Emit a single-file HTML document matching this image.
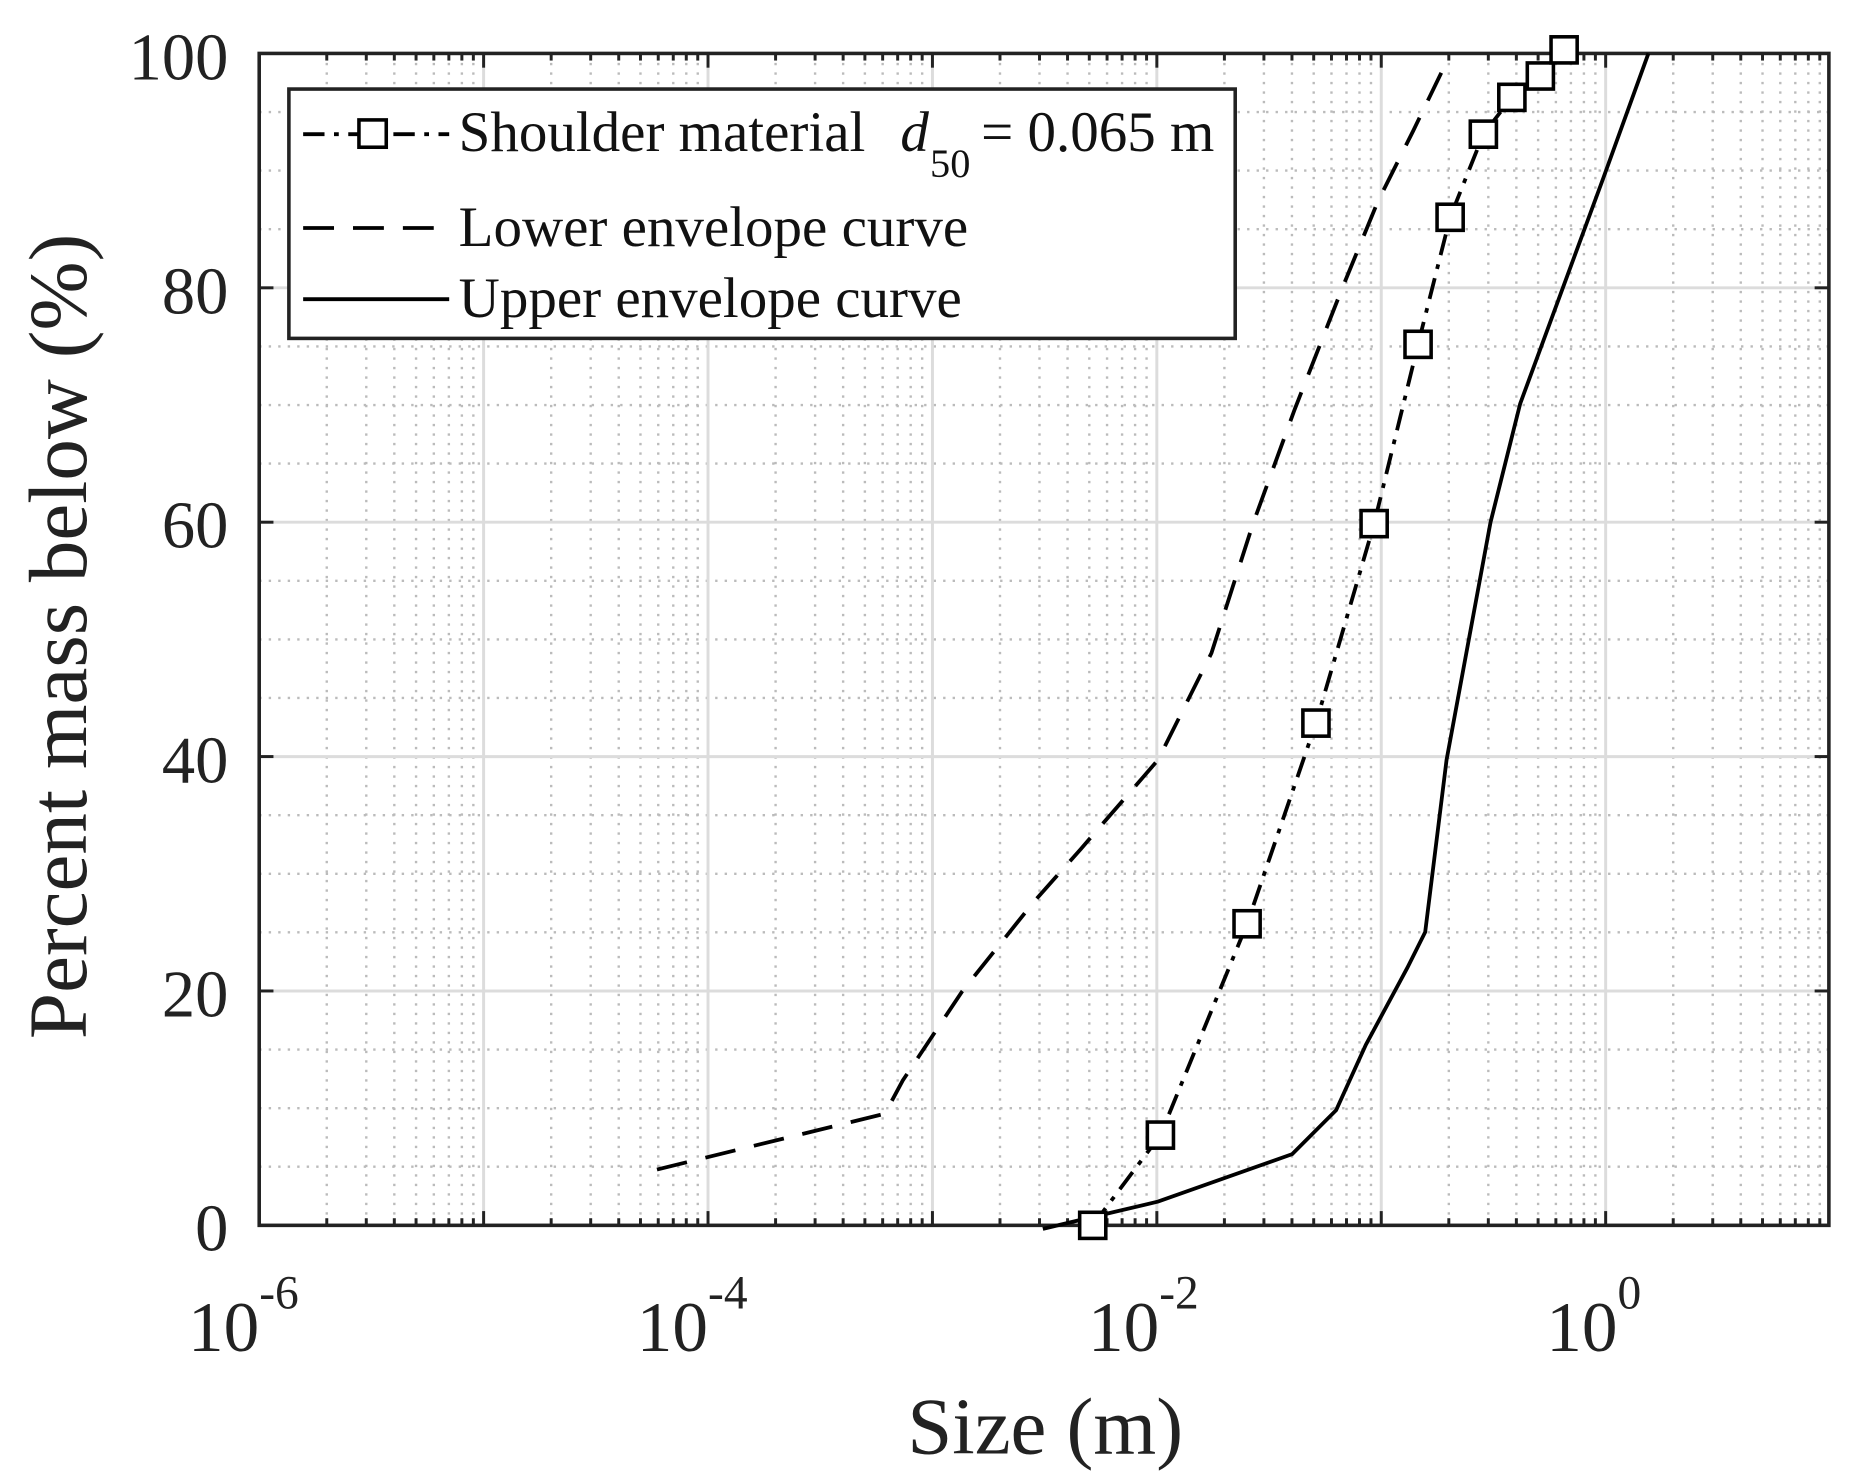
<!DOCTYPE html>
<html><head><meta charset="utf-8"><style>html,body{margin:0;padding:0;background:#fff}svg{display:block}</style></head>
<body>
<svg width="1853" height="1483" viewBox="0 0 1560 1249" xmlns="http://www.w3.org/2000/svg" font-family="Liberation Serif, serif">
<rect width="1560" height="1249" fill="#fff"/>
<g id="minor" stroke="#bbb" stroke-width="2" stroke-dasharray="2,6">
</g>
<g id="major" stroke="#dcdcdc" stroke-width="2.5"></g>
<g id="ticks" stroke="#222" stroke-width="2.5"></g>
<rect x="218" y="45" width="1322" height="987" fill="none" stroke="#222" stroke-width="3"/>
<g fill="none" stroke="#000" stroke-width="3.2">
<polyline stroke-dasharray="26,16" points="553,985 745,938 760,910 810,835 870,760 910,715 975,640 1020,550 1055,441 1090,345 1130,243 1160,170 1190,110 1220,48"/>
<polyline points="878,1035 920,1025 975,1012 1088,972 1125,935 1150,880 1185,815 1200,785 1218,640 1255,440 1280,340 1350,150 1388,45"/>
<polyline stroke-dasharray="18,8,4,8" points="920,1032 977,956 1050,778 1108,609 1157,441 1194,290 1221,183 1249,113 1273,82 1297,64 1317,42"/>
<g id="mk" stroke-width="3" fill="#fff"></g>
</g>
<rect x="243" y="75" width="797" height="210" fill="#fff" stroke="#222" stroke-width="3"/>
<g stroke="#000" stroke-width="3.2">
<line x1="255" y1="113" x2="378" y2="113" stroke-dasharray="18,8,4,8"/>
<rect x="302" y="101" width="23" height="23" fill="#fff" stroke-width="3"/>
<line x1="255" y1="192" x2="378" y2="192" stroke-dasharray="26,16"/>
<line x1="255" y1="252" x2="378" y2="252"/>
</g>
<g font-size="48" fill="#111">
<text x="386" y="127">Shoulder material</text>
<text x="758" y="127" font-style="italic">d</text>
<text x="783" y="149" font-size="34">50</text>
<text x="826" y="127">= 0.065 m</text>
<text x="386" y="207">Lower envelope curve</text>
<text x="386" y="267">Upper envelope curve</text>
</g>
<g font-size="56" fill="#222" text-anchor="end">
<text x="192" y="67">100</text>
<text x="192" y="264">80</text>
<text x="192" y="461">60</text>
<text x="192" y="659">40</text>
<text x="192" y="856">20</text>
<text x="192" y="1053">0</text>
</g>
<g font-size="60" fill="#222">
<text x="158" y="1138">10<tspan font-size="40" dy="-36">-6</tspan></text>
<text x="536" y="1138">10<tspan font-size="40" dy="-36">-4</tspan></text>
<text x="916" y="1138">10<tspan font-size="40" dy="-36">-2</tspan></text>
<text x="1302" y="1138">10<tspan font-size="40" dy="-36">0</tspan></text>
</g>
<text x="880" y="1224" font-size="68" fill="#222" text-anchor="middle">Size (m)</text>
<text transform="translate(72,536) rotate(-90)" font-size="70" fill="#222" text-anchor="middle">Percent mass below (%)</text>
<script>
var ns="http://www.w3.org/2000/svg";
function L(g,x1,y1,x2,y2){var l=document.createElementNS(ns,"line");l.setAttribute("x1",x1);l.setAttribute("y1",y1);l.setAttribute("x2",x2);l.setAttribute("y2",y2);document.getElementById(g).appendChild(l);}
var L0=218,R=1540,T=45,B=1032,D=189;
for(var d=0;d<7;d++){for(var k=2;k<=9;k++){var x=L0+(d+Math.log10(k))*D;L("minor",x,T,x,B);L("ticks",x,B,x,B-6);L("ticks",x,T,x,T+6);}
 if(d>0){var x=L0+d*D;L("major",x,T,x,B);L("ticks",x,B,x,B-12);L("ticks",x,T,x,T+12);}}
for(var p=5;p<100;p+=5){var y=B-p*9.87;if(p%20==0){L("major",L0,y,R,y);L("ticks",L0,y,L0+12,y);L("ticks",R,y,R-12,y);}else L("minor",L0,y,R,y);}
var m=[[920,1032],[977,956],[1050,778],[1108,609],[1157,441],[1194,290],[1221,183],[1249,113],[1273,82],[1297,64],[1317,42]];
m.forEach(function(q){var r=document.createElementNS(ns,"rect");r.setAttribute("x",q[0]-11);r.setAttribute("y",q[1]-11);r.setAttribute("width",22);r.setAttribute("height",22);document.getElementById("mk").appendChild(r);});
</script>
</svg>
</body></html>
